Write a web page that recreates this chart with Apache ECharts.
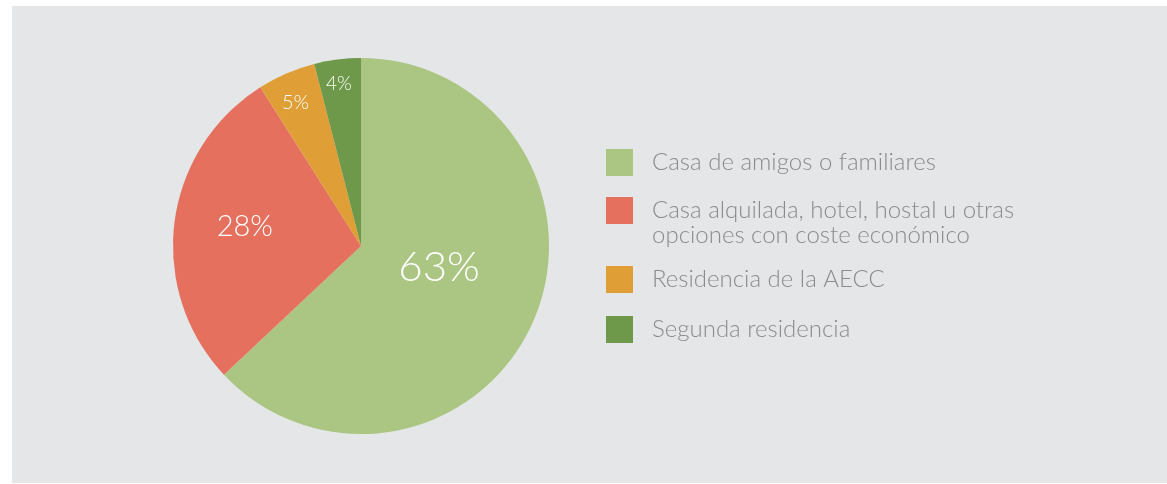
<!DOCTYPE html>
<html>
<head>
<meta charset="utf-8">
<script src="https://cdn.jsdelivr.net/npm/echarts@6/dist/echarts.min.js"></script>
<style>
  html, body { margin: 0; padding: 0; background: #ffffff; }
  .chart { position: absolute; left: 12px; top: 6px; width: 1155px; height: 477px; background: #e5e6e8; }
</style>
</head>
<body>
<div class="chart"></div>
<script>
// datos del gráfico
var categorias = [
    'Casa de amigos o familiares',
    'Casa alquilada, hotel, hostal u otras\nopciones con coste económico',
    'Residencia de la AECC',
    'Segunda residencia'
];
var valores = [63, 28, 5, 4];
var colores = ['#abc682', '#e5705e', '#e09f36', '#6e984a'];

// estilo de etiquetas (tamaño y desplazamiento respecto a la posición interior)
var tamEtiqueta = [42, 29, 20, 19];
var despEtiqueta = [[-11, -17], [-20, -7], [-27, -54], [-10, -66]];
var legendaTop = [143, 167, 260, 310];

(function () {
    var myChart = echarts.init(document.querySelector('.chart'))

    var legendas = categorias.map(function (nombre, i) {
        return {
            left: 594,
            top: legendaTop[i],
            padding: 0,
            orient: 'vertical',
            icon: 'rect',
            itemWidth: 27,
            itemHeight: 27,
            selectedMode: false,
            data: [nombre],
            // línea vacía arriba para que la primera línea quede centrada con el cuadro
            formatter: function (name) {
                return name.indexOf('\n') >= 0 ? '\n' + name : name
            },
            textStyle: {
                color: '#8a8b8d',
                fontSize: 24,
                fontFamily: 'Lato',
                fontWeight: 300,
                lineHeight: 25,
                padding: [0, 0, 0, 14]
            }
        }
    })

    var option = {
        backgroundColor: 'transparent',
        animation: false,
        color: colores,
        legend: legendas,
        series: [
            {
                type: 'pie',
                center: [349, 240],
                radius: 188,
                startAngle: 90,
                clockwise: true,
                silent: true,
                itemStyle: { borderWidth: 0 },
                label: {
                    position: 'inside',
                    color: '#ffffff',
                    fontFamily: 'Lato',
                    fontWeight: 300,
                    formatter: '{c}%'
                },
                labelLine: { show: false },
                labelLayout: function (params) {
                    var d = despEtiqueta[params.dataIndex]
                    return { dx: d[0], dy: d[1] }
                },
                data: valores.map(function (v, i) {
                    return { value: v, name: categorias[i], label: { fontSize: tamEtiqueta[i] } }
                })
            }
        ]
    }

    myChart.setOption(option)
    window.addEventListener('resize', function () {
        myChart.resize()
    })
})()
</script>
</body>
</html>
